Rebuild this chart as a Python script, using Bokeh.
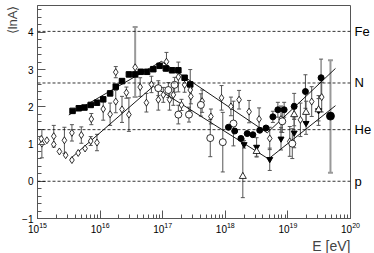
from bokeh.plotting import figure
from bokeh.models import (ColumnDataSource, Whisker, TeeHead, Span, LinearAxis, FixedTicker,
                          CustomJSTickFormatter, LogTicker, Title, Range1d)
from bokeh.embed import file_html
from bokeh.resources import INLINE

FONT = "Liberation Sans"

# reference composition lines (lnA)
mass_labels = ["p", "He", "N", "Fe"]
mass_lnA = [0.0, 1.386, 2.639, 4.025]

# filled squares (log10 E, <lnA>)
sq_logE = [15.56, 15.66, 15.75, 15.85, 15.95, 16.05, 16.16, 16.25, 16.35, 16.46,
           16.56, 16.65, 16.75, 16.85, 16.95, 17.05, 17.15, 17.25, 17.35, 17.44]
sq_lnA = [1.89, 1.96, 1.98, 2.05, 2.11, 2.20, 2.36, 2.54, 2.69, 2.87,
          2.87, 2.94, 2.94, 3.01, 3.10, 3.03, 2.98, 2.98, 2.78, 2.60]

# open diamonds
dia_logE = [15.07, 15.06, 15.15, 15.26, 15.26, 15.35, 15.43, 15.45, 15.55, 15.55,
            15.65, 15.70, 15.76, 15.85, 15.86, 15.95, 16.05, 16.16, 16.25, 16.25,
            16.35, 16.42, 16.46, 16.64, 16.74, 16.82, 16.93, 17.01, 17.06,
            17.11, 17.17, 17.25, 17.30, 17.35, 17.44, 17.45, 17.63, 17.77, 17.94,
            18.09, 18.22, 18.38, 18.54, 18.71, 18.89, 19.03, 19.20, 19.38, 19.54]
dia_lnA = [1.01, 1.14, 1.10, 1.21, 0.99, 0.80, 1.10, 0.70, 1.30, 0.57,
           0.76, 1.24, 0.88, 1.08, 1.67, 1.04, 1.94, 1.80, 2.14, 2.93,
           1.93, 2.38, 1.79, 2.53, 2.11, 2.60, 2.19, 2.32, 3.21,
           2.19, 2.32, 2.80, 2.05, 2.59, 2.45, 2.28, 2.15, 1.74, 2.24,
           2.01, 2.19, 1.87, 1.67, 1.15, 1.67, 1.07, 1.65, 2.14, 2.26]
dia_err = [0.38, 0.0, 0.0, 0.29, 0.0, 0.0, 0.35, 0.0, 0.22, 0.0,
           0.0, 0.22, 0.0, 0.12, 0.15, 0.22, 0.30, 0.30, 0.30, 0.15,
           0.35, 0.15, 0.45, 0.25, 0.25, 0.22, 0.28, 0.20, 0.25,
           0.28, 0.28, 0.40, 0.15, 0.20, 0.55, 0.20, 0.30, 0.20, 0.33,
           0.25, 0.25, 0.30, 0.30, 0.30, 0.35, 0.40, 0.45, 0.40, 0.40]

# open circles
oc_logE = [16.93, 17.09, 17.19, 17.25, 17.42, 17.61, 17.76, 17.96, 18.13, 18.91, 19.07]
oc_lnA = [2.50, 2.45, 2.59, 1.79, 1.79, 2.05, 1.16, 1.05, 1.55, 1.61, 1.01]
oc_err = [0.20, 0.20, 0.20, 0.25, 0.20, 0.30, 0.50, 0.80, 0.60, 0.30, 0.40]

# filled circles
fc_logE = [18.05, 18.15, 18.25, 18.35, 18.44, 18.55, 18.65, 18.76, 18.84, 18.94,
           19.10, 19.28, 19.53]
fc_lnA = [1.45, 1.35, 1.15, 1.28, 1.25, 1.37, 1.43, 1.73, 1.92, 1.92,
          2.01, 2.41, 2.78]
fc_err = [0.0, 0.0, 0.05, 0.0, 0.0, 0.0, 0.0, 0.15, 0.20, 0.20,
          0.35, 0.45, 0.50]

# filled down triangles
dt_logE = [18.30, 18.50, 18.71, 18.89, 19.10, 19.29, 19.49]
dt_lnA = [0.99, 0.92, 0.59, 1.14, 1.30, 1.56, 1.90]
dt_err = [0.10, 0.25, 0.30, 0.30, 0.40, 0.30, 0.40]

# open triangles
ot_logE = [18.28, 18.50, 19.10, 19.29, 19.49]
ot_lnA = [0.13, 0.80, 1.79, 1.85, 1.92]
ot_lo = [0.57, 0.15, 0.30, 0.30, 0.30]
ot_hi = [1.00, 0.15, 0.30, 0.30, 0.30]

# points with large grey error bars
gr_logE = [16.56, 19.68]
gr_lnA = [3.06, 1.75]
gr_lo = [0.80, 1.52]
gr_hi = [1.08, 1.50]
gr_marker = ["diamond", "circle"]

# broken-line fits (vertices)
up_logE = [15.50, 16.98, 18.67, 19.76]
up_lnA = [1.78, 3.22, 1.30, 3.03]
lo_logE = [15.52, 16.85, 18.69, 19.76]
lo_lnA = [0.60, 2.55, 0.60, 2.03]

X_MIN, X_MAX = 1e15, 1e20
Y_MIN, Y_MAX = -1, 4.72


def E(lst):
    return [10 ** v for v in lst]


p = figure(width=374, height=253, x_axis_type="log",
           x_range=Range1d(X_MIN, X_MAX), y_range=Range1d(Y_MIN, Y_MAX),
           output_backend="svg", toolbar_location=None,
           min_border_left=37, min_border_right=23, min_border_top=5, min_border_bottom=34)
p.background_fill_color = "white"
p.border_fill_color = "white"
p.outline_line_color = "#555555"
p.xgrid.grid_line_color = None
p.ygrid.grid_line_color = None

for v in mass_lnA:
    p.add_layout(Span(location=v, dimension="width", line_color="black",
                      line_dash="3 2", line_width=0.8))


def whiskers(xs, ys, lo, hi, color="#555555", width=1.0, head=4):
    src = ColumnDataSource(dict(x=E(xs), lower=[y - a for y, a in zip(ys, lo)],
                                upper=[y + b for y, b in zip(ys, hi)]))
    w = Whisker(source=src, base="x", lower="lower", upper="upper",
                line_color=color, line_width=width,
                upper_head=TeeHead(size=head, line_color=color, line_width=width),
                lower_head=TeeHead(size=head, line_color=color, line_width=width))
    p.add_layout(w)


def sym(xs, ys, err):
    keep = [(x, y, e) for x, y, e in zip(xs, ys, err) if e > 0]
    whiskers([k[0] for k in keep], [k[1] for k in keep],
             [k[2] for k in keep], [k[2] for k in keep])


sym(dia_logE, dia_lnA, dia_err)
sym(oc_logE, oc_lnA, oc_err)
sym(fc_logE, fc_lnA, fc_err)
sym(dt_logE, dt_lnA, dt_err)
whiskers(ot_logE, ot_lnA, ot_lo, ot_hi)
whiskers(gr_logE, gr_lnA, gr_lo, gr_hi, color="#999999", width=2, head=5)

p.line(E(up_logE), up_lnA, line_color="black", line_width=0.9)
p.line(E(lo_logE), lo_lnA, line_color="black", line_width=0.9)

p.scatter(E(sq_logE), sq_lnA, marker="square", size=5.5, color="black")
p.scatter(E(dia_logE), dia_lnA, marker="diamond", size=7, fill_color="white",
          line_color="black", line_width=0.8)
p.scatter(E(oc_logE), oc_lnA, marker="circle", size=7, fill_color="white",
          line_color="black", line_width=0.8)
p.scatter(E(fc_logE), fc_lnA, marker="circle", size=6, color="black")
p.scatter(E(dt_logE), dt_lnA, marker="inverted_triangle", size=6, color="black")
p.scatter(E(ot_logE), ot_lnA, marker="triangle", size=7, fill_color="white",
          line_color="black", line_width=0.8)
p.scatter(E(gr_logE), gr_lnA, marker=gr_marker, size=[7, 8], fill_color=["white", "black"],
          line_color="black", line_width=0.8)

# axes
xa = p.xaxis[0]
xa.ticker = LogTicker(mantissas=[1], desired_num_ticks=6, num_minor_ticks=10)
ya = p.yaxis[0]
ya.ticker.desired_num_ticks = 6
ya.ticker.num_minor_ticks = 5
for ax in (xa, ya):
    ax.axis_line_color = "#555555"
    ax.major_tick_line_color = "#555555"
    ax.minor_tick_line_color = "#555555"
    ax.major_tick_in = 8
    ax.major_tick_out = 0
    ax.minor_tick_in = 4
    ax.minor_tick_out = 0
    ax.major_label_text_font = FONT
    ax.major_label_text_font_size = "10px"
    ax.major_label_text_color = "black"
xa.major_label_standoff = 3
ya.major_label_standoff = 4

ra = LinearAxis(ticker=FixedTicker(ticks=mass_lnA),
                formatter=CustomJSTickFormatter(args=dict(names=mass_labels),
                                                code="return names[index]"),
                axis_line_color=None, major_tick_line_color=None, minor_tick_line_color=None,
                major_tick_in=0, major_tick_out=0, minor_tick_in=0, minor_tick_out=0,
                major_label_text_font=FONT, major_label_text_font_size="13px",
                major_label_text_color="black", major_label_standoff=4)
p.add_layout(ra, "right")

p.add_layout(Title(text="\u27e8lnA\u27e9", align="right", text_font=FONT,
                   text_font_size="13px", text_font_style="normal", standoff=0, offset=0), "left")
p.add_layout(Title(text="E [eV]", align="right", text_font=FONT,
                   text_font_size="14px", text_font_style="normal", standoff=0, offset=0), "below")

open("out.html", "w").write(file_html(p, INLINE))
